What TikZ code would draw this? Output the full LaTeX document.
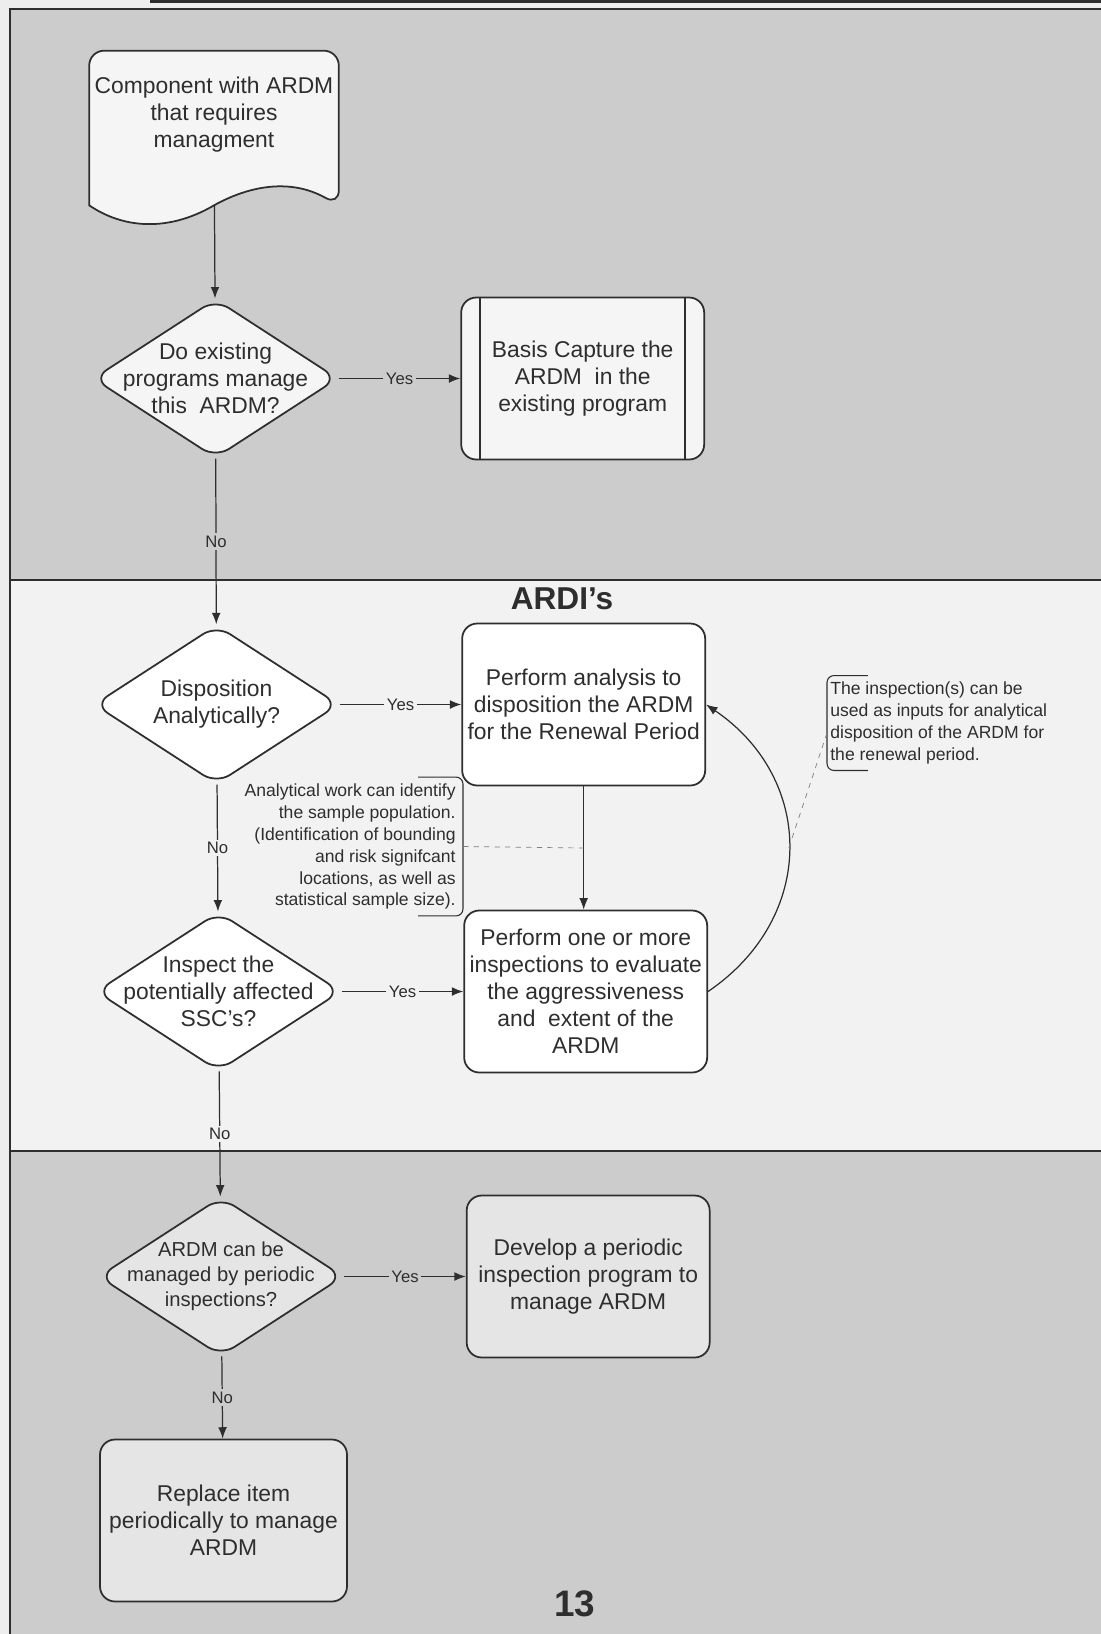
\documentclass[tikz,border=0pt]{standalone}
\usepackage{fontspec}
\setmainfont{Liberation Sans}
\usetikzlibrary{shapes.geometric, positioning, arrows.meta}

\definecolor{paper}{gray}{0.93}
\definecolor{topband}{gray}{0.80}
\definecolor{midband}{gray}{0.95}
\definecolor{ink}{gray}{0.18}
\definecolor{boxfill}{gray}{0.96}
\definecolor{lowfill}{gray}{0.90}

\begin{document}
\begin{tikzpicture}[
    x=0.02cm, y=-0.02cm,
    every node/.style={text=ink},
    txt/.style={font=\fontsize{13}{15.4}\selectfont, align=center},
    decision/.style={diamond, draw=ink, line width=1pt, fill=boxfill, rounded corners=0.32cm, minimum width=4.9cm, minimum height=3.18cm, inner sep=0pt},
    process/.style={rectangle, draw=ink, line width=1pt, fill=boxfill, rounded corners=0.3cm, minimum width=4.86cm, minimum height=3.24cm, inner sep=2pt, txt},
    arrow/.style={line width=0.7pt, draw=ink, -{Latex[length=6.5pt,width=5pt]}},
    yesno/.style={font=\fontsize{9.5}{11}\selectfont, fill=#1, inner sep=1.5pt},
    note/.style={font=\fontsize{10}{12.5}\selectfont, inner xsep=0pt, inner ysep=0.12cm},
    bracket/.style={draw=ink, line width=0.6pt, rounded corners=4pt},
    callout/.style={draw=gray, line width=0.4pt, dash pattern=on 3pt off 3pt},
]
\useasboundingbox (0,0) rectangle (1101,1634);

% lanes
\fill[paper] (0,0) rectangle (1101,1634);
\fill[topband] (10,9) rectangle (1101,580);
\fill[midband] (10,580) rectangle (1101,1151);
\fill[topband] (10,1151) rectangle (1101,1634);
\draw[ink, line width=1pt] (10,1634) -- (10,9) -- (1101,9);
\draw[ink, line width=1pt] (10,580) -- (1101,580);
\draw[ink, line width=1pt] (10,1151) -- (1101,1151);
\draw[ink, line width=1.8pt] (150,1.5) -- (1101,1.5);

% top lane
\node (start) at (214,128) [minimum width=4.98cm, minimum height=3.08cm] {};
\filldraw[draw=ink, fill=boxfill, line width=1pt, rounded corners=0.3cm] (start.south west) |- (start.north) -| (start.south east) [sharp corners]
  .. controls +(-48,-27) and +(36,-20) .. (start.south)
  .. controls +(-39,23) and +(40,27) .. (start.south west) -- cycle;
\node (startlabel) [txt] at (214,115) {Component with ARDM\\that requires\\managment};

\node (q1) [decision] at (215.5,378.5) {};
\node (q1label) [txt] at (q1) {Do existing\\programs manage\\this~ ARDM?};
\node (capture) [process, right=2.43cm of q1] {Basis Capture the\\ARDM~ in the\\existing program};
\draw[ink, line width=1pt] ([xshift=0.4cm]capture.north west) -- ([xshift=0.4cm]capture.south west);
\draw[ink, line width=1pt] ([xshift=-0.4cm]capture.north east) -- ([xshift=-0.4cm]capture.south east);

% ARDI lane
\node (lanetitle) at (562,599) [font=\fontsize{18}{20}\selectfont\bfseries] {ARDI's};
\node (q2) [decision, fill=white] at (216.5,704.5) {};
\node (q2label) [txt] at (q2) {Disposition\\Analytically?};
\node (analysis) [process, fill=white, right=2.43cm of q2] {Perform analysis to\\disposition the ARDM\\for the Renewal Period};
\node (q3) [decision, fill=white] at (218.5,991.5) {};
\node (q3label) [txt] at (q3) {Inspect the\\potentially affected\\SSC's?};
\node (inspect) [process, fill=white, right=2.43cm of q3] {Perform one or more\\inspections to evaluate\\the aggressiveness\\and~ extent of the\\ARDM};

\node (note1) [note, anchor=east, align=right] at (456,846.5) {Analytical work can identify\\the sample population.\\(Identification of bounding\\and risk signifcant\\locations, as well as\\statistical sample size).};
\draw[bracket] ([xshift=-0.76cm]note1.north east) -- ([xshift=0.14cm]note1.north east) -- ([xshift=0.14cm]note1.south east) -- ([xshift=-0.76cm]note1.south east);
\node (note2) [note, anchor=west, align=left] at (830,723) {The inspection(s) can be\\used as inputs for analytical\\disposition of the ARDM for\\the renewal period.};
\draw[bracket] ([xshift=0.76cm]note2.north west) -- ([xshift=-0.06cm]note2.north west) -- ([xshift=-0.06cm]note2.south west) -- ([xshift=0.76cm]note2.south west);

% bottom lane
\node (q4) [decision, fill=lowfill] at (221,1276.5) {};
\node (q4label) [txt, font=\fontsize{11.5}{14.2}\selectfont] at (q4) {ARDM can be\\managed by periodic\\inspections?};
\node (develop) [process, fill=lowfill, right=2.43cm of q4] {Develop a periodic\\inspection program to\\manage ARDM};
\node (replace) [process, fill=lowfill, minimum width=4.94cm] at (223.5,1520.5) {Replace item\\periodically to manage\\ARDM};
\node (pagenum) at (575,1604) [font=\fontsize{21}{24}\selectfont\bfseries] {13};

% connectors
\draw[arrow] (start) -- (q1);
\draw[arrow] (q1) -- node[yesno=topband] {Yes} (capture);
\draw[arrow] (q1) -- node[yesno=topband] {No} (q2);
\draw[arrow] (q2) -- node[yesno=midband] {Yes} (analysis);
\draw[arrow] (q2) -- node[yesno=midband] {No} (q3);
\draw[arrow] (q3) -- node[yesno=midband] {Yes} (inspect);
\draw[arrow] (q3) -- node[yesno=midband] {No} (q4);
\draw[arrow] (q4) -- node[yesno=topband] {Yes} (develop);
\draw[arrow] (q4) -- node[yesno=topband] {No} (replace);
\draw[arrow] (analysis.south) -- coordinate[pos=0.5] (notepoint) (analysis.south |- inspect.north);
\draw[arrow] (inspect.east) .. controls +(109,-74) and +(109,74) .. coordinate[pos=0.5] (loopmid) (analysis.east);

% callouts
\draw[callout] ([xshift=0.14cm]note1.east) -- (notepoint);
\draw[callout] ([xshift=-0.06cm,yshift=-0.2cm]note2.west) -- (loopmid);

\end{tikzpicture}
\end{document}
